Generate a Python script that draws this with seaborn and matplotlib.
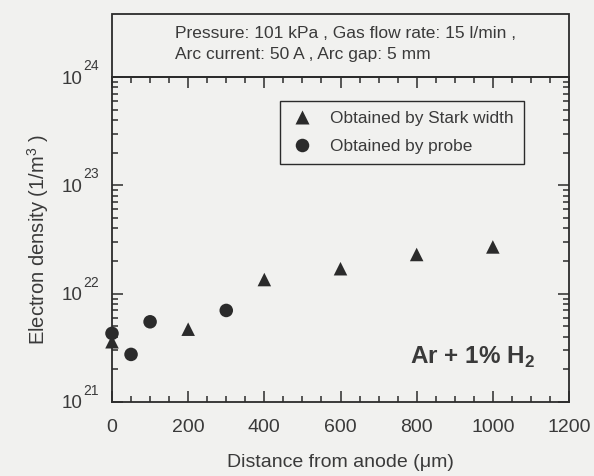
import numpy as np
import pandas as pd
import matplotlib
matplotlib.use("Agg")
import matplotlib.pyplot as plt
from matplotlib.patches import Rectangle
from matplotlib.ticker import FixedLocator, FixedFormatter, LogLocator, MultipleLocator, NullFormatter
import seaborn as sns

# ---- data ----
stark_x = [0, 200, 400, 600, 800, 1000]
stark_y = [3.6e21, 4.7e21, 1.35e22, 1.70e22, 2.30e22, 2.70e22]
probe_x = [0, 50, 100, 300]
probe_y = [4.3e21, 2.75e21, 5.5e21, 7.0e21]
series_names = ["Obtained by Stark width", "Obtained by probe"]
x_ticks = [0, 200, 400, 600, 800, 1000, 1200]
y_ticks = [1e21, 1e22, 1e23, 1e24]
y_exps = ["21", "22", "23", "24"]
header_lines = ["Pressure: 101 kPa , Gas flow rate: 15 l/min ,",
                "Arc current: 50 A , Arc gap: 5 mm"]
x_label = "Distance from anode (\u03bcm)"
y_label = "Electron density (1/m$^{3}$ )"

sns.set_style("ticks")
plt.rcParams["font.family"] = ["Liberation Sans", "DejaVu Sans"]
plt.rcParams["mathtext.fontset"] = "custom"
plt.rcParams["mathtext.rm"] = "Liberation Sans"

bg = "#f1f1ef"
ink = "#2b2b2b"
txt = "#3a3a3a"

df = pd.DataFrame({
    "x": stark_x + probe_x,
    "y": stark_y + probe_y,
    "method": [series_names[0]] * len(stark_x) + [series_names[1]] * len(probe_x),
})

fig = plt.figure(figsize=(5.94, 4.76), dpi=100, facecolor=bg)
W, H = 594, 476
ax_left, ax_right, ax_top, ax_bottom = 112, 569, 77, 402
ax = fig.add_axes([ax_left / W, 1 - ax_bottom / H, (ax_right - ax_left) / W, (ax_bottom - ax_top) / H])
ax.set_facecolor(bg)

sns.scatterplot(data=df, x="x", y="y", hue="method", style="method",
                markers={series_names[0]: "^", series_names[1]: "o"},
                palette={series_names[0]: ink, series_names[1]: ink},
                s=95, edgecolor="none", ax=ax, clip_on=False, zorder=5)

ax.set_yscale("log")
ax.set_xlim(0, 1200)
ax.set_ylim(1e21, 1e24)

ax.xaxis.set_major_locator(FixedLocator(x_ticks))
ax.xaxis.set_minor_locator(MultipleLocator(50))
ax.yaxis.set_major_locator(FixedLocator(y_ticks))
ax.yaxis.set_major_formatter(FixedFormatter(["10"] * len(y_ticks)))
ax.yaxis.set_minor_locator(LogLocator(base=10, subs=np.arange(2, 10)))
ax.yaxis.set_minor_formatter(NullFormatter())

ax.tick_params(which="both", direction="in", top=True, right=True, color=ink, width=1.1)
ax.tick_params(which="major", length=8)
ax.tick_params(which="minor", length=4.5)
ax.tick_params(axis="x", which="major", labelsize=14, pad=12, labelcolor=txt)
ax.tick_params(axis="y", which="major", labelsize=13.5, pad=21, labelcolor=txt)

for s in ax.spines.values():
    s.set_color(ink)
    s.set_linewidth(1.3)

# exponents of y tick labels
for v, e in zip(y_ticks, y_exps):
    ax.annotate(e, xy=(0, v), xycoords=("axes fraction", "data"),
                xytext=(-21, 5), textcoords="offset points",
                ha="left", va="baseline", fontsize=10, color=txt)

ax.set_xlabel(x_label, fontsize=14, color=txt, labelpad=13)
ax.set_ylabel(y_label, fontsize=14.5, color=txt, labelpad=8)

handles, labels = ax.get_legend_handles_labels()
leg = ax.legend(handles=handles, labels=labels, loc="upper left",
                bbox_to_anchor=((280 - ax_left) / (ax_right - ax_left), (ax_bottom - 101) / (ax_bottom - ax_top)),
                borderaxespad=0, fontsize=12.4, frameon=True, fancybox=False,
                edgecolor=ink, facecolor=bg, framealpha=1, handlelength=1.4,
                handletextpad=0.9, labelspacing=0.72, borderpad=0.6, markerscale=1.0)
leg.get_frame().set_linewidth(1.0)
for t in leg.get_texts():
    t.set_color(txt)

ax.text((535 - ax_left) / (ax_right - ax_left), (ax_bottom - 357) / (ax_bottom - ax_top),
        "Ar + 1% H$_\\mathregular{2}$", transform=ax.transAxes, ha="right", va="center",
        fontsize=17.5, fontweight="bold", color=txt)

# header box
fig.patches.append(Rectangle((ax_left / W, 1 - ax_top / H), (ax_right - ax_left) / W, (ax_top - 14) / H,
                             transform=fig.transFigure, fill=False, edgecolor=ink, linewidth=1.3))
fig.text(175 / W, 1 - 33 / H, header_lines[0], fontsize=12.5, color=txt, ha="left", va="center")
fig.text(175 / W, 1 - 55 / H, header_lines[1], fontsize=12.5, color=txt, ha="left", va="center")

fig.savefig("out.png", dpi=100, facecolor=bg)
